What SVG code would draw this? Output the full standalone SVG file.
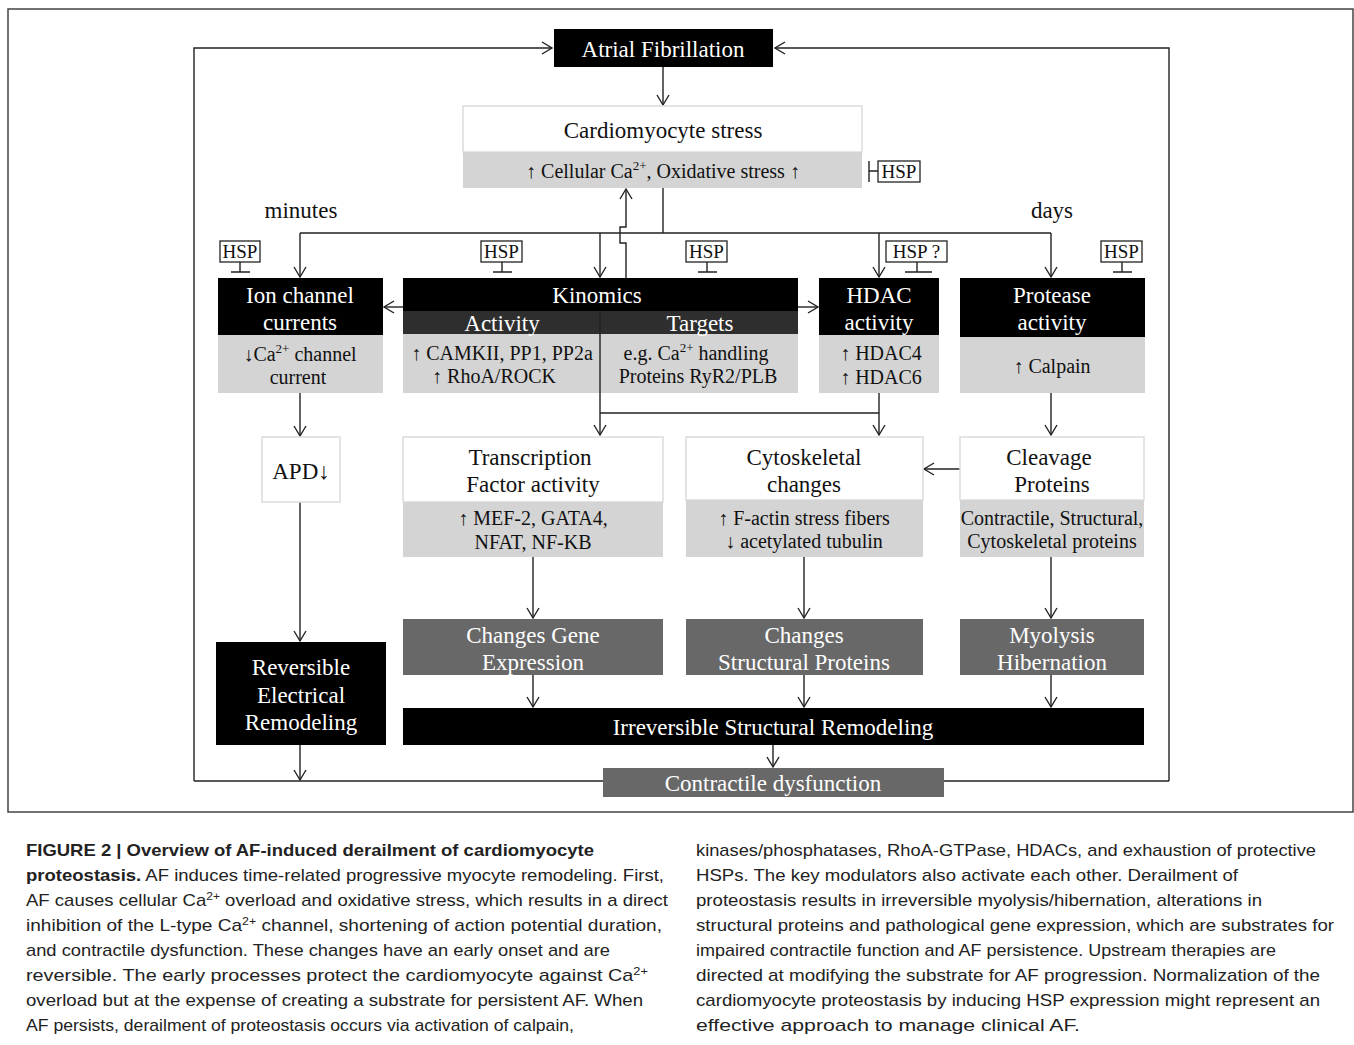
<svg xmlns="http://www.w3.org/2000/svg" width="1354" height="1045" viewBox="0 0 1354 1045">
<style>
.t{font-family:"Liberation Serif","Times New Roman",serif;text-anchor:middle;fill:#111}
.h{font-size:23px}
.s{font-size:20px}
.hs{font-size:19px}
.w{fill:#fff}
.blk{fill:#000}
.dk{fill:#2e2e2e}
.lg{fill:#d4d4d4}
.md{fill:#686868}
.wb{fill:#fff;stroke:#dcdcdc;stroke-width:1.5}
.ln{fill:none;stroke:#222;stroke-width:1.4}
.hsp{fill:#fff;stroke:#222;stroke-width:1.3}
.cap{font-family:"Liberation Sans",Arial,sans-serif;font-size:17px;fill:#222}
</style>
<defs>
<marker id="ar" markerUnits="userSpaceOnUse" markerWidth="14" markerHeight="14" refX="11" refY="7" orient="auto">
<path d="M1,1 L11,7 L1,13" fill="none" stroke="#222" stroke-width="1.4"/>
</marker>
</defs>
<rect x="8" y="9" width="1345" height="803" fill="none" stroke="#444" stroke-width="1.5"/>

<g id="connectors">
<path class="ln" d="M194,781 V48 H552" marker-end="url(#ar)"/>
<path class="ln" d="M1169,781 V48 H775" marker-end="url(#ar)"/>
<path class="ln" d="M194,781 H603"/>
<path class="ln" d="M944,781 H1169"/>
<path class="ln" d="M663,67 V105" marker-end="url(#ar)"/>
<path class="ln" d="M663,188 V233"/>
<path class="ln" d="M300,233 H1051"/>
<path class="ln" d="M300,233 V277" marker-end="url(#ar)"/>
<path class="ln" d="M600,233 V277" marker-end="url(#ar)"/>
<path class="ln" d="M879,233 V277" marker-end="url(#ar)"/>
<path class="ln" d="M1051,233 V277" marker-end="url(#ar)"/>
<path class="ln" d="M626,278 V243 H620 V227 H626 V189" marker-end="url(#ar)"/>
<path class="ln" d="M403,307 H384" marker-end="url(#ar)"/>
<path class="ln" d="M798,307 H818" marker-end="url(#ar)"/>
<path class="ln" d="M600,311 V435" marker-end="url(#ar)"/>
<path class="ln" d="M600,413 H879"/>
<path class="ln" d="M879,393 V435" marker-end="url(#ar)"/>
<path class="ln" d="M1051,393 V435" marker-end="url(#ar)"/>
<path class="ln" d="M300,393 V436" marker-end="url(#ar)"/>
<path class="ln" d="M300,502 V641" marker-end="url(#ar)"/>
<path class="ln" d="M960,469 H924" marker-end="url(#ar)"/>
<path class="ln" d="M533,557 V618" marker-end="url(#ar)"/>
<path class="ln" d="M804,557 V618" marker-end="url(#ar)"/>
<path class="ln" d="M1051,557 V618" marker-end="url(#ar)"/>
<path class="ln" d="M533,675 V707" marker-end="url(#ar)"/>
<path class="ln" d="M804,675 V707" marker-end="url(#ar)"/>
<path class="ln" d="M1051,675 V707" marker-end="url(#ar)"/>
<path class="ln" d="M773,745 V767" marker-end="url(#ar)"/>
<path class="ln" d="M300,745 V780" marker-end="url(#ar)"/>
</g>

<g id="af">
<rect class="blk" x="554" y="29" width="219" height="38"/>
<text class="t h w" x="663" y="57">Atrial Fibrillation</text>
</g>

<g id="stress">
<rect class="wb" x="463" y="106" width="399" height="46"/>
<rect class="lg" x="463" y="152" width="399" height="36"/>
<text class="t h" x="663" y="138">Cardiomyocyte stress</text>
<text class="t s" x="663" y="178">↑ Cellular Ca<tspan font-size="13" dy="-8">2+</tspan><tspan dy="8">, Oxidative stress ↑</tspan></text>
</g>

<g id="hsp-stress">
<path class="ln" d="M869,161 V182 M869,171 H878"/>
<rect class="hsp" x="878" y="161" width="42" height="21"/>
<text class="t hs" x="899" y="178">HSP</text>
</g>

<g id="labels">
<text class="t h" x="301" y="218">minutes</text>
<text class="t h" x="1052" y="218">days</text>
</g>

<g id="hsp-ion">
<rect class="hsp" x="220" y="241" width="40" height="21"/>
<text class="t hs" x="240" y="258">HSP</text>
<path class="ln" d="M240,262 V272 M231,272 H250"/>
</g>
<g id="hsp-kin">
<rect class="hsp" x="481" y="241" width="41" height="21"/>
<text class="t hs" x="501.5" y="258">HSP</text>
<path class="ln" d="M502,262 V272 M493,272 H512"/>
</g>
<g id="hsp-targ">
<rect class="hsp" x="686" y="241" width="41" height="21"/>
<text class="t hs" x="706.5" y="258">HSP</text>
<path class="ln" d="M707,262 V272 M698,272 H717"/>
</g>
<g id="hsp-hdac">
<rect class="hsp" x="886" y="241" width="61" height="21"/>
<text class="t hs" x="916.5" y="258">HSP ?</text>
<path class="ln" d="M917,262 V272 M905,272 H932"/>
</g>
<g id="hsp-prot">
<rect class="hsp" x="1101" y="241" width="41" height="21"/>
<text class="t hs" x="1121.5" y="258">HSP</text>
<path class="ln" d="M1122,262 V272 M1113,272 H1132"/>
</g>

<g id="ion">
<rect class="blk" x="218" y="278" width="165" height="57"/>
<rect class="lg" x="218" y="335" width="165" height="58"/>
<text class="t h w" x="300" y="303">Ion channel</text>
<text class="t h w" x="300" y="330">currents</text>
<text class="t s" x="300" y="361">↓Ca<tspan font-size="13" dy="-8">2+</tspan><tspan dy="8"> channel</tspan></text>
<text class="t s" x="298" y="384">current</text>
</g>

<g id="kinomics">
<rect class="blk" x="403" y="278" width="395" height="33"/>
<rect class="dk" x="403" y="311" width="395" height="23"/>
<rect class="lg" x="403" y="334" width="395" height="59"/>
<path class="ln" d="M600,311 V393" stroke="#111"/>
<text class="t h w" x="597" y="303">Kinomics</text>
<text class="t h w" x="502" y="331">Activity</text>
<text class="t h w" x="700" y="331">Targets</text>
<text class="t s" x="502" y="360">↑ CAMKII, PP1, PP2a</text>
<text class="t s" x="494" y="383">↑ RhoA/ROCK</text>
<text class="t s" x="696" y="360">e.g. Ca<tspan font-size="13" dy="-8">2+</tspan><tspan dy="8"> handling</tspan></text>
<text class="t s" x="698" y="383">Proteins RyR2/PLB</text>
</g>

<g id="hdac">
<rect class="blk" x="819" y="278" width="120" height="57"/>
<rect class="lg" x="819" y="335" width="120" height="58"/>
<text class="t h w" x="879" y="303">HDAC</text>
<text class="t h w" x="879" y="330">activity</text>
<text class="t s" x="881" y="360">↑ HDAC4</text>
<text class="t s" x="881" y="384">↑ HDAC6</text>
</g>

<g id="protease">
<rect class="blk" x="960" y="278" width="185" height="59"/>
<rect class="lg" x="960" y="337" width="185" height="56"/>
<text class="t h w" x="1052" y="303">Protease</text>
<text class="t h w" x="1052" y="330">activity</text>
<text class="t s" x="1052" y="373">↑ Calpain</text>
</g>

<g id="apd">
<rect class="wb" x="262" y="437" width="78" height="65"/>
<text class="t h" x="301" y="479">APD↓</text>
</g>

<g id="transcription">
<rect class="wb" x="403" y="437" width="260" height="65"/>
<rect class="lg" x="403" y="502" width="260" height="55"/>
<text class="t h" x="530" y="465">Transcription</text>
<text class="t h" x="533" y="492">Factor activity</text>
<text class="t s" x="533" y="525">↑ MEF-2, GATA4,</text>
<text class="t s" x="533" y="549">NFAT, NF-KB</text>
</g>

<g id="cytoskeletal">
<rect class="wb" x="686" y="437" width="237" height="63"/>
<rect class="lg" x="686" y="500" width="237" height="57"/>
<text class="t h" x="804" y="465">Cytoskeletal</text>
<text class="t h" x="804" y="492">changes</text>
<text class="t s" x="804" y="525">↑ F-actin stress fibers</text>
<text class="t s" x="804" y="548">↓ acetylated tubulin</text>
</g>

<g id="cleavage">
<rect class="wb" x="960" y="437" width="184" height="63"/>
<rect class="lg" x="960" y="500" width="184" height="57"/>
<text class="t h" x="1049" y="465">Cleavage</text>
<text class="t h" x="1052" y="492">Proteins</text>
<text class="t s" x="1052" y="525">Contractile, Structural,</text>
<text class="t s" x="1052" y="548">Cytoskeletal proteins</text>
</g>

<g id="gene">
<rect class="md" x="403" y="619" width="260" height="56"/>
<text class="t h w" x="533" y="643">Changes Gene</text>
<text class="t h w" x="533" y="670">Expression</text>
</g>
<g id="structural">
<rect class="md" x="686" y="619" width="237" height="56"/>
<text class="t h w" x="804" y="643">Changes</text>
<text class="t h w" x="804" y="670">Structural Proteins</text>
</g>
<g id="myolysis">
<rect class="md" x="960" y="619" width="184" height="56"/>
<text class="t h w" x="1052" y="643">Myolysis</text>
<text class="t h w" x="1052" y="670">Hibernation</text>
</g>

<g id="reversible">
<rect class="blk" x="216" y="642" width="170" height="103"/>
<text class="t h w" x="301" y="675">Reversible</text>
<text class="t h w" x="301" y="703">Electrical</text>
<text class="t h w" x="301" y="730">Remodeling</text>
</g>

<g id="irreversible">
<rect class="blk" x="403" y="708" width="741" height="37"/>
<text class="t h w" x="773" y="735">Irreversible Structural Remodeling</text>
</g>

<g id="contractile">
<rect class="md" x="603" y="768" width="341" height="29"/>
<text class="t h w" x="773" y="791">Contractile dysfunction</text>
</g>

<g id="caption">
<text class="cap" x="26" y="856" font-weight="bold" textLength="568" lengthAdjust="spacingAndGlyphs">FIGURE 2 | Overview of AF-induced derailment of cardiomyocyte</text>
<text class="cap" x="26" y="881" textLength="638" lengthAdjust="spacingAndGlyphs"><tspan font-weight="bold">proteostasis.</tspan> AF induces time-related progressive myocyte remodeling. First,</text>
<text class="cap" x="26" y="906" textLength="642" lengthAdjust="spacingAndGlyphs">AF causes cellular Ca<tspan font-size="11" dy="-6">2+</tspan><tspan dy="6"> overload and oxidative stress, which results in a direct</tspan></text>
<text class="cap" x="26" y="931" textLength="636" lengthAdjust="spacingAndGlyphs">inhibition of the L-type Ca<tspan font-size="11" dy="-6">2+</tspan><tspan dy="6"> channel, shortening of action potential duration,</tspan></text>
<text class="cap" x="26" y="956" textLength="584" lengthAdjust="spacingAndGlyphs">and contractile dysfunction. These changes have an early onset and are</text>
<text class="cap" x="26" y="981" textLength="622" lengthAdjust="spacingAndGlyphs">reversible. The early processes protect the cardiomyocyte against Ca<tspan font-size="11" dy="-6">2+</tspan></text>
<text class="cap" x="26" y="1006" textLength="617" lengthAdjust="spacingAndGlyphs">overload but at the expense of creating a substrate for persistent AF. When</text>
<text class="cap" x="26" y="1031" textLength="548" lengthAdjust="spacingAndGlyphs">AF persists, derailment of proteostasis occurs via activation of calpain,</text>
<text class="cap" x="696" y="856" textLength="620" lengthAdjust="spacingAndGlyphs">kinases/phosphatases, RhoA-GTPase, HDACs, and exhaustion of protective</text>
<text class="cap" x="696" y="881" textLength="542" lengthAdjust="spacingAndGlyphs">HSPs. The key modulators also activate each other. Derailment of</text>
<text class="cap" x="696" y="906" textLength="566" lengthAdjust="spacingAndGlyphs">proteostasis results in irreversible myolysis/hibernation, alterations in</text>
<text class="cap" x="696" y="931" textLength="638" lengthAdjust="spacingAndGlyphs">structural proteins and pathological gene expression, which are substrates for</text>
<text class="cap" x="696" y="956" textLength="580" lengthAdjust="spacingAndGlyphs">impaired contractile function and AF persistence. Upstream therapies are</text>
<text class="cap" x="696" y="981" textLength="624" lengthAdjust="spacingAndGlyphs">directed at modifying the substrate for AF progression. Normalization of the</text>
<text class="cap" x="696" y="1006" textLength="624" lengthAdjust="spacingAndGlyphs">cardiomyocyte proteostasis by inducing HSP expression might represent an</text>
<text class="cap" x="696" y="1031" textLength="384" lengthAdjust="spacingAndGlyphs">effective approach to manage clinical AF.</text>
</g>
</svg>
